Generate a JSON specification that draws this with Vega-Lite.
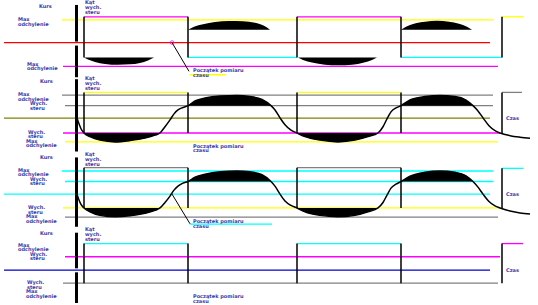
{
  "$schema": "https://vega.github.io/schema/vega-lite/v6.json",
  "width": 538,
  "height": 305,
  "autosize": {"type": "fit", "contains": "padding"},
  "padding": 0,
  "background": "white",
  "config": {"view": {"stroke": null}},
  "datasets": {
    "linie": [
      {"s": "p1_max_g", "x1": 62, "x2": 493, "y": 19},
      {"s": "p1_kurs", "x1": 4, "x2": 490, "y": 42},
      {"s": "p1_max_d", "x1": 63, "x2": 498, "y": 66},
      {"s": "p1_ster_g", "x1": 84, "x2": 188, "y": 16},
      {"s": "p1_ster_g", "x1": 297, "x2": 401, "y": 16},
      {"s": "p1_ster_d", "x1": 188, "x2": 297, "y": 57},
      {"s": "p1_ster_d", "x1": 401, "x2": 502, "y": 57},
      {"s": "p1_ster_k", "x1": 502, "x2": 523, "y": 16},
      {"s": "p2_ster_g", "x1": 84, "x2": 188, "y": 92.3},
      {"s": "p2_ster_g", "x1": 297, "x2": 401, "y": 92.3},
      {"s": "p2_ster_k", "x1": 502, "x2": 522, "y": 92.3},
      {"s": "p2_max_g", "x1": 62, "x2": 493, "y": 95},
      {"s": "p2_wych_g", "x1": 65, "x2": 493, "y": 105.7},
      {"s": "p2_kurs", "x1": 4, "x2": 490, "y": 118.3},
      {"s": "p2_wych_d", "x1": 63, "x2": 500, "y": 133.3},
      {"s": "p2_max_d", "x1": 65, "x2": 498, "y": 142.3},
      {"s": "p3_ster_g", "x1": 84, "x2": 188, "y": 168.3},
      {"s": "p3_ster_g", "x1": 297, "x2": 401, "y": 168.3},
      {"s": "p3_ster_k", "x1": 502, "x2": 523, "y": 169},
      {"s": "p3_max_g", "x1": 62, "x2": 493, "y": 171.7},
      {"s": "p3_wych_g", "x1": 65, "x2": 493, "y": 182.3},
      {"s": "p3_kurs", "x1": 4, "x2": 490, "y": 195},
      {"s": "p3_wych_d", "x1": 63, "x2": 500, "y": 209},
      {"s": "p3_max_d", "x1": 65, "x2": 498, "y": 218.3},
      {"s": "p4_ster_g", "x1": 84, "x2": 188, "y": 245},
      {"s": "p4_ster_g", "x1": 297, "x2": 401, "y": 245},
      {"s": "p4_ster_k", "x1": 502, "x2": 523, "y": 245},
      {"s": "p4_wych_g", "x1": 65, "x2": 500, "y": 258.3},
      {"s": "p4_kurs", "x1": 4, "x2": 490, "y": 271.7},
      {"s": "p4_wych_d", "x1": 63, "x2": 498, "y": 285},
      {"s": "p1_podkr", "x1": 190, "x2": 226, "y": 74.5},
      {"s": "p3_podkr", "x1": 190, "x2": 272, "y": 225.3}
    ],
    "pionowe": [
      {"x": 84, "y1": 16, "y2": 57}, {"x": 188, "y1": 16, "y2": 57}, {"x": 297, "y1": 16, "y2": 57}, {"x": 401, "y1": 16, "y2": 57}, {"x": 502, "y1": 16, "y2": 57},
      {"x": 84, "y1": 92.3, "y2": 133.3}, {"x": 188, "y1": 92.3, "y2": 133.3}, {"x": 297, "y1": 92.3, "y2": 133.3}, {"x": 401, "y1": 92.3, "y2": 133.3}, {"x": 502, "y1": 92.3, "y2": 133.3},
      {"x": 84, "y1": 168.3, "y2": 209}, {"x": 188, "y1": 168.3, "y2": 209}, {"x": 297, "y1": 168.3, "y2": 209}, {"x": 401, "y1": 168.3, "y2": 209}, {"x": 502, "y1": 169, "y2": 209},
      {"x": 84, "y1": 245, "y2": 285}, {"x": 188, "y1": 245, "y2": 285}, {"x": 297, "y1": 245, "y2": 285}, {"x": 401, "y1": 245, "y2": 285}, {"x": 502, "y1": 245, "y2": 285}
    ],
    "os": [
      {"x": 76.5, "y1": 4, "y2": 41}, {"x": 76.5, "y1": 45, "y2": 77},
      {"x": 76.5, "y1": 79, "y2": 152}, {"x": 76.5, "y1": 158, "y2": 228},
      {"x": 76.5, "y1": 234, "y2": 270}, {"x": 76.5, "y1": 274, "y2": 305}
    ],
    "kurs": [
      {"k": "p2", "x": 77, "y": 118}, {"k": "p2", "x": 79, "y": 124}, {"k": "p2", "x": 81, "y": 129}, {"k": "p2", "x": 84, "y": 133.3}, {"k": "p2", "x": 90, "y": 137}, {"k": "p2", "x": 100, "y": 140.5}, {"k": "p2", "x": 115, "y": 142.3}, {"k": "p2", "x": 130, "y": 141}, {"k": "p2", "x": 145, "y": 138.5}, {"k": "p2", "x": 155, "y": 135.5}, {"k": "p2", "x": 160, "y": 133.3}, {"k": "p2", "x": 165, "y": 127}, {"k": "p2", "x": 170, "y": 120}, {"k": "p2", "x": 174, "y": 114}, {"k": "p2", "x": 178, "y": 110}, {"k": "p2", "x": 183, "y": 107.5}, {"k": "p2", "x": 188, "y": 105.7}, {"k": "p2", "x": 195, "y": 101}, {"k": "p2", "x": 205, "y": 98}, {"k": "p2", "x": 220, "y": 96}, {"k": "p2", "x": 237, "y": 95.5}, {"k": "p2", "x": 250, "y": 96.5}, {"k": "p2", "x": 262, "y": 99.5}, {"k": "p2", "x": 271, "y": 105.7}, {"k": "p2", "x": 275, "y": 110}, {"k": "p2", "x": 280, "y": 118}, {"k": "p2", "x": 285, "y": 125}, {"k": "p2", "x": 291, "y": 130.5}, {"k": "p2", "x": 297, "y": 133.3}, {"k": "p2", "x": 305, "y": 137}, {"k": "p2", "x": 320, "y": 140.5}, {"k": "p2", "x": 338, "y": 142.3}, {"k": "p2", "x": 355, "y": 140.5}, {"k": "p2", "x": 368, "y": 137}, {"k": "p2", "x": 378, "y": 133.3}, {"k": "p2", "x": 383, "y": 127}, {"k": "p2", "x": 387, "y": 119}, {"k": "p2", "x": 391, "y": 112}, {"k": "p2", "x": 396, "y": 108}, {"k": "p2", "x": 401, "y": 105.7}, {"k": "p2", "x": 410, "y": 100}, {"k": "p2", "x": 425, "y": 96.5}, {"k": "p2", "x": 440, "y": 95.5}, {"k": "p2", "x": 455, "y": 96.5}, {"k": "p2", "x": 466, "y": 100}, {"k": "p2", "x": 473, "y": 105.7}, {"k": "p2", "x": 478, "y": 111}, {"k": "p2", "x": 483, "y": 118}, {"k": "p2", "x": 489, "y": 126}, {"k": "p2", "x": 495, "y": 131}, {"k": "p2", "x": 500, "y": 133.3}, {"k": "p2", "x": 510, "y": 136}, {"k": "p2", "x": 520, "y": 137.5}, {"k": "p2", "x": 530, "y": 138.5},
      {"k": "p3", "x": 77, "y": 195}, {"k": "p3", "x": 79, "y": 201}, {"k": "p3", "x": 81, "y": 205.5}, {"k": "p3", "x": 84, "y": 209}, {"k": "p3", "x": 90, "y": 213}, {"k": "p3", "x": 100, "y": 216.5}, {"k": "p3", "x": 115, "y": 218}, {"k": "p3", "x": 130, "y": 217}, {"k": "p3", "x": 145, "y": 214.5}, {"k": "p3", "x": 155, "y": 211.5}, {"k": "p3", "x": 160, "y": 209}, {"k": "p3", "x": 165, "y": 203.5}, {"k": "p3", "x": 170, "y": 197}, {"k": "p3", "x": 174, "y": 191}, {"k": "p3", "x": 178, "y": 187}, {"k": "p3", "x": 183, "y": 184}, {"k": "p3", "x": 188, "y": 182.3}, {"k": "p3", "x": 195, "y": 178}, {"k": "p3", "x": 205, "y": 175}, {"k": "p3", "x": 220, "y": 172.5}, {"k": "p3", "x": 237, "y": 171.7}, {"k": "p3", "x": 250, "y": 172.5}, {"k": "p3", "x": 262, "y": 175.5}, {"k": "p3", "x": 271, "y": 182.3}, {"k": "p3", "x": 275, "y": 187}, {"k": "p3", "x": 280, "y": 195}, {"k": "p3", "x": 285, "y": 202}, {"k": "p3", "x": 291, "y": 206.5}, {"k": "p3", "x": 297, "y": 209}, {"k": "p3", "x": 305, "y": 213}, {"k": "p3", "x": 320, "y": 216.5}, {"k": "p3", "x": 338, "y": 218}, {"k": "p3", "x": 355, "y": 216.5}, {"k": "p3", "x": 368, "y": 213}, {"k": "p3", "x": 378, "y": 209}, {"k": "p3", "x": 383, "y": 203.5}, {"k": "p3", "x": 387, "y": 196}, {"k": "p3", "x": 391, "y": 189}, {"k": "p3", "x": 396, "y": 185}, {"k": "p3", "x": 401, "y": 182.3}, {"k": "p3", "x": 410, "y": 177}, {"k": "p3", "x": 425, "y": 173}, {"k": "p3", "x": 440, "y": 171.7}, {"k": "p3", "x": 455, "y": 173}, {"k": "p3", "x": 466, "y": 176.5}, {"k": "p3", "x": 473, "y": 182.3}, {"k": "p3", "x": 478, "y": 188}, {"k": "p3", "x": 483, "y": 195}, {"k": "p3", "x": 489, "y": 202.5}, {"k": "p3", "x": 495, "y": 207}, {"k": "p3", "x": 500, "y": 209}, {"k": "p3", "x": 510, "y": 212}, {"k": "p3", "x": 520, "y": 214}, {"k": "p3", "x": 530, "y": 215}
    ],
    "soczewki": [
      {"id": "1a", "x": 84, "y": 57, "b": 57}, {"id": "1a", "x": 88, "y": 59, "b": 57}, {"id": "1a", "x": 95, "y": 61.5, "b": 57}, {"id": "1a", "x": 105, "y": 63.5, "b": 57}, {"id": "1a", "x": 118, "y": 64.5, "b": 57}, {"id": "1a", "x": 130, "y": 64, "b": 57}, {"id": "1a", "x": 140, "y": 62.5, "b": 57}, {"id": "1a", "x": 148, "y": 60, "b": 57}, {"id": "1a", "x": 154, "y": 57, "b": 57},
      {"id": "1b", "x": 188, "y": 29, "b": 29}, {"id": "1b", "x": 194, "y": 26, "b": 29}, {"id": "1b", "x": 203, "y": 23.5, "b": 29}, {"id": "1b", "x": 215, "y": 21.3, "b": 29}, {"id": "1b", "x": 229, "y": 20.3, "b": 29}, {"id": "1b", "x": 243, "y": 20.5, "b": 29}, {"id": "1b", "x": 255, "y": 22, "b": 29}, {"id": "1b", "x": 264, "y": 25, "b": 29}, {"id": "1b", "x": 270, "y": 29, "b": 29},
      {"id": "1c", "x": 298, "y": 57, "b": 57}, {"id": "1c", "x": 303, "y": 59.5, "b": 57}, {"id": "1c", "x": 312, "y": 62, "b": 57}, {"id": "1c", "x": 325, "y": 64.3, "b": 57}, {"id": "1c", "x": 338, "y": 65, "b": 57}, {"id": "1c", "x": 352, "y": 64.3, "b": 57}, {"id": "1c", "x": 364, "y": 62, "b": 57}, {"id": "1c", "x": 372, "y": 59.5, "b": 57}, {"id": "1c", "x": 377, "y": 57, "b": 57},
      {"id": "1d", "x": 401, "y": 29, "b": 29}, {"id": "1d", "x": 406, "y": 26, "b": 29}, {"id": "1d", "x": 414, "y": 23, "b": 29}, {"id": "1d", "x": 425, "y": 21, "b": 29}, {"id": "1d", "x": 437, "y": 20, "b": 29}, {"id": "1d", "x": 449, "y": 21, "b": 29}, {"id": "1d", "x": 459, "y": 23, "b": 29}, {"id": "1d", "x": 467, "y": 26, "b": 29}, {"id": "1d", "x": 472, "y": 29, "b": 29},
      {"id": "2a", "x": 84, "y": 133.3, "b": 133.3}, {"id": "2a", "x": 90, "y": 137, "b": 133.3}, {"id": "2a", "x": 100, "y": 140.5, "b": 133.3}, {"id": "2a", "x": 115, "y": 142.3, "b": 133.3}, {"id": "2a", "x": 130, "y": 141, "b": 133.3}, {"id": "2a", "x": 145, "y": 138.5, "b": 133.3}, {"id": "2a", "x": 155, "y": 135.5, "b": 133.3}, {"id": "2a", "x": 160, "y": 133.3, "b": 133.3},
      {"id": "2b", "x": 188, "y": 105.7, "b": 105.7}, {"id": "2b", "x": 195, "y": 101, "b": 105.7}, {"id": "2b", "x": 205, "y": 98, "b": 105.7}, {"id": "2b", "x": 220, "y": 96, "b": 105.7}, {"id": "2b", "x": 237, "y": 95.5, "b": 105.7}, {"id": "2b", "x": 250, "y": 96.5, "b": 105.7}, {"id": "2b", "x": 262, "y": 99.5, "b": 105.7}, {"id": "2b", "x": 271, "y": 105.7, "b": 105.7},
      {"id": "2c", "x": 297, "y": 133.3, "b": 133.3}, {"id": "2c", "x": 305, "y": 137, "b": 133.3}, {"id": "2c", "x": 320, "y": 140.5, "b": 133.3}, {"id": "2c", "x": 338, "y": 142.3, "b": 133.3}, {"id": "2c", "x": 355, "y": 140.5, "b": 133.3}, {"id": "2c", "x": 368, "y": 137, "b": 133.3}, {"id": "2c", "x": 378, "y": 133.3, "b": 133.3},
      {"id": "2d", "x": 401, "y": 105.7, "b": 105.7}, {"id": "2d", "x": 410, "y": 100, "b": 105.7}, {"id": "2d", "x": 425, "y": 96.5, "b": 105.7}, {"id": "2d", "x": 440, "y": 95.5, "b": 105.7}, {"id": "2d", "x": 455, "y": 96.5, "b": 105.7}, {"id": "2d", "x": 466, "y": 100, "b": 105.7}, {"id": "2d", "x": 473, "y": 105.7, "b": 105.7},
      {"id": "3a", "x": 84, "y": 209, "b": 209}, {"id": "3a", "x": 90, "y": 213, "b": 209}, {"id": "3a", "x": 100, "y": 216.5, "b": 209}, {"id": "3a", "x": 115, "y": 218, "b": 209}, {"id": "3a", "x": 130, "y": 217, "b": 209}, {"id": "3a", "x": 145, "y": 214.5, "b": 209}, {"id": "3a", "x": 155, "y": 211.5, "b": 209}, {"id": "3a", "x": 160, "y": 209, "b": 209},
      {"id": "3b", "x": 188, "y": 182.3, "b": 182.3}, {"id": "3b", "x": 195, "y": 178, "b": 182.3}, {"id": "3b", "x": 205, "y": 175, "b": 182.3}, {"id": "3b", "x": 220, "y": 172.5, "b": 182.3}, {"id": "3b", "x": 237, "y": 171.7, "b": 182.3}, {"id": "3b", "x": 250, "y": 172.5, "b": 182.3}, {"id": "3b", "x": 262, "y": 175.5, "b": 182.3}, {"id": "3b", "x": 271, "y": 182.3, "b": 182.3},
      {"id": "3c", "x": 297, "y": 209, "b": 209}, {"id": "3c", "x": 305, "y": 213, "b": 209}, {"id": "3c", "x": 320, "y": 216.5, "b": 209}, {"id": "3c", "x": 338, "y": 218, "b": 209}, {"id": "3c", "x": 355, "y": 216.5, "b": 209}, {"id": "3c", "x": 368, "y": 213, "b": 209}, {"id": "3c", "x": 378, "y": 209, "b": 209},
      {"id": "3d", "x": 401, "y": 182.3, "b": 182.3}, {"id": "3d", "x": 410, "y": 177, "b": 182.3}, {"id": "3d", "x": 425, "y": 173, "b": 182.3}, {"id": "3d", "x": 440, "y": 171.7, "b": 182.3}, {"id": "3d", "x": 455, "y": 173, "b": 182.3}, {"id": "3d", "x": 466, "y": 176.5, "b": 182.3}, {"id": "3d", "x": 473, "y": 182.3, "b": 182.3}
    ],
    "wskazniki": [
      {"id": "w1", "x": 172, "y": 42}, {"id": "w1", "x": 189, "y": 71},
      {"id": "w3", "x": 172, "y": 195}, {"id": "w3", "x": 190, "y": 225}
    ],
    "znaczniki": [
      {"x": 172, "y": 42}
    ],
    "opisy": [
      {"x": 39, "y": 5.3, "t": "Kurs"},
      {"x": 85, "y": 1.5, "t": "Kąt"}, {"x": 85, "y": 6.5, "t": "wych."}, {"x": 85, "y": 11.5, "t": "steru"},
      {"x": 18, "y": 18.4, "t": "Max"}, {"x": 18, "y": 23, "t": "odchylenie"},
      {"x": 27, "y": 63.2, "t": "Max"}, {"x": 27, "y": 67.8, "t": "odchylenie"},
      {"x": 193, "y": 69.7, "t": "Początek pomiaru"}, {"x": 193, "y": 74.3, "t": "czasu"},
      {"x": 40, "y": 81, "t": "Kurs"},
      {"x": 85, "y": 78, "t": "Kąt"}, {"x": 85, "y": 83, "t": "wych."}, {"x": 85, "y": 88, "t": "steru"},
      {"x": 18, "y": 94, "t": "Max"}, {"x": 18, "y": 98.6, "t": "odchylenie"},
      {"x": 30, "y": 103.2, "t": "Wych."}, {"x": 30, "y": 107.8, "t": "steru"},
      {"x": 28, "y": 132, "t": "Wych."}, {"x": 28, "y": 136.6, "t": "steru"},
      {"x": 26, "y": 141.2, "t": "Max"}, {"x": 26, "y": 145.8, "t": "odchylenie"},
      {"x": 193, "y": 146, "t": "Początek pomiaru"}, {"x": 193, "y": 150.6, "t": "czasu"},
      {"x": 506, "y": 118.3, "t": "Czas"},
      {"x": 40, "y": 157.7, "t": "Kurs"},
      {"x": 85, "y": 155, "t": "Kąt"}, {"x": 85, "y": 160, "t": "wych."}, {"x": 85, "y": 165, "t": "steru"},
      {"x": 18, "y": 170.5, "t": "Max"}, {"x": 18, "y": 175.1, "t": "odchylenie"},
      {"x": 30, "y": 179.7, "t": "Wych."}, {"x": 30, "y": 184.3, "t": "steru"},
      {"x": 28, "y": 208, "t": "Wych."}, {"x": 28, "y": 212.6, "t": "steru"},
      {"x": 26, "y": 217.2, "t": "Max"}, {"x": 26, "y": 221.8, "t": "odchylenie"},
      {"x": 193, "y": 222.6, "t": "Początek pomiaru"}, {"x": 193, "y": 227.2, "t": "czasu"},
      {"x": 506, "y": 195, "t": "Czas"},
      {"x": 40, "y": 234.3, "t": "Kurs"},
      {"x": 85, "y": 230, "t": "Kąt"}, {"x": 85, "y": 235, "t": "wych."}, {"x": 85, "y": 240, "t": "steru"},
      {"x": 18, "y": 246.2, "t": "Max"}, {"x": 18, "y": 250.8, "t": "odchylenie"},
      {"x": 30, "y": 255.4, "t": "Wych."}, {"x": 30, "y": 260, "t": "steru"},
      {"x": 27, "y": 283.9, "t": "Wych."}, {"x": 27, "y": 288.5, "t": "steru"},
      {"x": 26, "y": 293.1, "t": "Max"}, {"x": 26, "y": 297.7, "t": "odchylenie"},
      {"x": 193, "y": 298.3, "t": "Początek pomiaru"}, {"x": 193, "y": 302.9, "t": "czasu"},
      {"x": 506, "y": 271.7, "t": "Czas"}
    ]
  },
  "layer": [
    {
      "data": {"name": "linie"},
      "mark": {"type": "rule", "strokeWidth": 1.3},
      "encoding": {
        "x": {"field": "x1", "type": "quantitative", "scale": {"domain": [0, 538], "nice": false, "zero": false}, "axis": null},
        "x2": {"field": "x2"},
        "y": {"field": "y", "type": "quantitative", "scale": {"domain": [0, 305], "nice": false, "zero": false, "reverse": true}, "axis": null},
        "color": {
          "field": "s", "type": "nominal", "legend": null,
          "scale": {
            "domain": ["p1_ster_g", "p1_ster_d", "p1_ster_k", "p1_max_g", "p1_kurs", "p1_max_d", "p2_ster_g", "p2_ster_k", "p2_max_g", "p2_wych_g", "p2_kurs", "p2_wych_d", "p2_max_d", "p3_ster_g", "p3_ster_k", "p3_max_g", "p3_wych_g", "p3_kurs", "p3_wych_d", "p3_max_d", "p4_ster_g", "p4_ster_k", "p4_wych_g", "p4_kurs", "p4_wych_d", "p1_podkr", "p3_podkr"],
            "range": ["#ff00ff", "#00ffff", "#ffff00", "#ffff00", "#ff0000", "#ff00ff", "#ffff00", "#808080", "#808080", "#808080", "#808000", "#ff00ff", "#ffff00", "#808080", "#00ffff", "#00ffff", "#00ffff", "#00ffff", "#ffff00", "#808080", "#00ffff", "#ff00ff", "#ff00ff", "#0000cc", "#808080", "#ffff00", "#00ffff"]
          }
        }
      }
    },
    {
      "data": {"name": "soczewki"},
      "mark": {"type": "area", "color": "black", "interpolate": "monotone"},
      "encoding": {
        "x": {"field": "x", "type": "quantitative"},
        "y": {"field": "y", "type": "quantitative"},
        "y2": {"field": "b"},
        "detail": {"field": "id", "type": "nominal"}
      }
    },
    {
      "data": {"name": "kurs"},
      "mark": {"type": "line", "color": "black", "strokeWidth": 1.5, "interpolate": "monotone"},
      "encoding": {
        "x": {"field": "x", "type": "quantitative"},
        "y": {"field": "y", "type": "quantitative"},
        "detail": {"field": "k", "type": "nominal"}
      }
    },
    {
      "data": {"name": "wskazniki"},
      "mark": {"type": "line", "color": "black", "strokeWidth": 1},
      "encoding": {
        "x": {"field": "x", "type": "quantitative"},
        "y": {"field": "y", "type": "quantitative"},
        "detail": {"field": "id", "type": "nominal"}
      }
    },
    {
      "data": {"name": "znaczniki"},
      "mark": {"type": "point", "shape": "circle", "size": 14, "stroke": "#ff00ff", "strokeWidth": 1, "filled": false},
      "encoding": {
        "x": {"field": "x", "type": "quantitative"},
        "y": {"field": "y", "type": "quantitative"}
      }
    },
    {
      "data": {"name": "pionowe"},
      "mark": {"type": "rule", "color": "black", "strokeWidth": 1.5},
      "encoding": {
        "x": {"field": "x", "type": "quantitative"},
        "y": {"field": "y1", "type": "quantitative"},
        "y2": {"field": "y2"}
      }
    },
    {
      "data": {"name": "os"},
      "mark": {"type": "rule", "color": "black", "strokeWidth": 3},
      "encoding": {
        "x": {"field": "x", "type": "quantitative"},
        "y": {"field": "y1", "type": "quantitative"},
        "y2": {"field": "y2"}
      }
    },
    {
      "data": {"name": "opisy"},
      "mark": {"type": "text", "align": "left", "baseline": "middle", "font": "DejaVu Sans", "fontSize": 5, "fontWeight": "bold", "color": "#3a3aa8"},
      "encoding": {
        "x": {"field": "x", "type": "quantitative"},
        "y": {"field": "y", "type": "quantitative"},
        "text": {"field": "t", "type": "nominal"}
      }
    }
  ]
}
